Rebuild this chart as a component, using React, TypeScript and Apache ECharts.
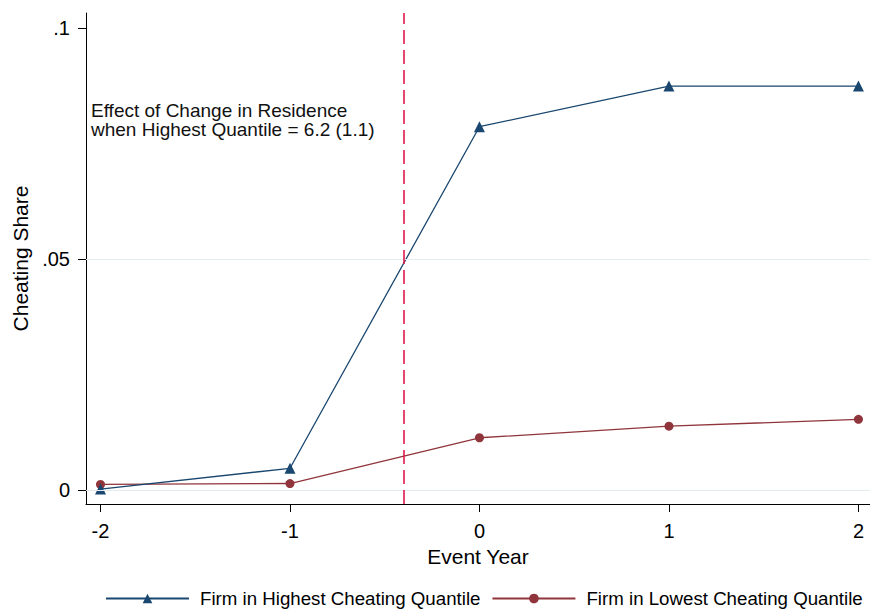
import React, { useEffect, useRef } from "react";
import * as echarts from "echarts";

const years = [-2, -1, 0, 1, 2];
const highestQuantile = [0.0002, 0.0047, 0.0786, 0.0874, 0.0874];
const lowestQuantile = [0.0012, 0.0014, 0.0113, 0.0138, 0.0153];
const xTicks = [-2, -1, 0, 1, 2];
const yTicks = [0, 0.05, 0.1];
const gridValues = [0, 0.05];
const eventLine = -0.4;
const seriesNames = ["Firm in Highest Cheating Quantile", "Firm in Lowest Cheating Quantile"];
const annotation = ["Effect of Change in Residence", "when Highest Quantile = 6.2 (1.1)"];

const FONT = "Arial, 'Liberation Sans', sans-serif";

export default function App() {
  const ref = useRef<HTMLDivElement>(null);
  useEffect(() => {
    if (!ref.current) return;
    const chart = echarts.init(ref.current, undefined, { renderer: "svg" });
    const toPairs = (vals: number[]) => years.map((y, i) => [y, vals[i]]);
    chart.setOption({
      animation: false,
      backgroundColor: "#ffffff",
      textStyle: { fontFamily: FONT },
      grid: { left: 86, right: 0, top: 13, bottom: 107 },
      xAxis: {
        type: "value",
        min: -2.0765,
        max: 2.061,
        name: "Event Year",
        nameLocation: "middle",
        nameGap: 36,
        nameTextStyle: { fontSize: 21, color: "#000", fontFamily: FONT },
        axisLine: { show: true, onZero: false, lineStyle: { color: "#000", width: 1 } },
        axisTick: { show: true, length: 8, lineStyle: { color: "#000" }, customValues: xTicks },
        axisLabel: {
          fontSize: 20,
          color: "#000",
          margin: 17,
          fontFamily: FONT,
          customValues: xTicks,
          formatter: (v: number) => String(v),
        },
        splitLine: { show: false },
      },
      yAxis: {
        type: "value",
        min: -0.00303,
        max: 0.1032,
        name: "Cheating Share",
        nameLocation: "middle",
        nameGap: 54,
        nameTextStyle: { fontSize: 21, color: "#000", fontFamily: FONT },
        axisLine: { show: true, onZero: false, lineStyle: { color: "#000", width: 1 } },
        axisTick: { show: true, length: 8, lineStyle: { color: "#000" }, customValues: yTicks },
        axisLabel: {
          fontSize: 20,
          color: "#000",
          margin: 16,
          fontFamily: FONT,
          customValues: yTicks,
          formatter: (v: number) => (v === 0 ? "0" : String(v).replace(/^0/, "")),
        },
        splitLine: { show: false },
      },
      legend: {
        left: 100,
        top: 584,
        width: 800,
        itemWidth: 83,
        itemHeight: 12,
        itemGap: 11,
        textStyle: { fontSize: 18.7, color: "#000", fontFamily: FONT, padding: [0, 0, 0, 6] },
        data: seriesNames,
      },
      graphic: [
        {
          type: "text",
          left: 91,
          top: 101,
          style: {
            text: annotation.join("\n"),
            fontSize: 19,
            lineHeight: 19,
            fill: "#111",
            fontFamily: FONT,
          },
        },
      ],
      series: [
        {
          name: "grid",
          type: "line",
          data: [],
          silent: true,
          markLine: {
            silent: true,
            symbol: "none",
            label: { show: false },
            lineStyle: { color: "#e3ecef", width: 1, type: "solid" },
            data: [
              ...gridValues.map((v) => ({ yAxis: v })),
              {
                xAxis: eventLine,
                lineStyle: { color: "#e0194d", width: 1.6, type: [14, 6], opacity: 1 },
              },
            ],
          },
        },
        {
          name: seriesNames[0],
          type: "line",
          data: toPairs(highestQuantile),
          symbol: "triangle",
          symbolSize: 11,
          color: "#1a476f",
          lineStyle: { color: "#1a476f", width: 1.3 },
          itemStyle: { color: "#1a476f" },
          z: 3,
        },
        {
          name: seriesNames[1],
          type: "line",
          data: toPairs(lowestQuantile),
          symbol: "circle",
          symbolSize: 9,
          color: "#90353b",
          lineStyle: { color: "#90353b", width: 1.3 },
          itemStyle: { color: "#90353b" },
          z: 2,
        },
      ],
    });
    return () => chart.dispose();
  }, []);
  return (
    <div
      ref={ref}
      style={{ position: "fixed", left: 0, top: 0, width: 870, height: 611, background: "#fff" }}
    />
  );
}
